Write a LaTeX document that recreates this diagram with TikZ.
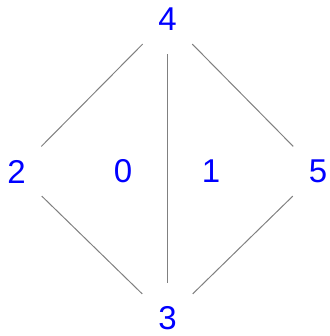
\documentclass[tikz,border=0pt]{standalone}
\usepackage{fontspec}
\setmainfont{Liberation Sans}
\usepackage{xcolor}
\usepackage{tikz}
\usetikzlibrary{calc}

\begin{document}
\begin{tikzpicture}[x=1pt,y=1pt,
  every node/.style={font=\fontsize{33}{38}\selectfont, text=blue},
  vx/.style={circle, inner sep=0pt, minimum size=70pt},
  fc/.style={inner sep=0pt},
  ed/.style={draw=gray, line width=1pt}]
  \useasboundingbox (0,0) rectangle (329,336);
  \node[vx] (v4) at (167.5,317) {4};
  \node[vx] (v2) at (16.5,164.5) {2};
  \node[vx] (v5) at (318,164.5) {5};
  \node[vx] (v3) at (167.5,17.5) {3};
  \node[fc] (f0) at (123,164.5) {0};
  \node[fc] (f1) at (211,164.5) {1};
  \draw[ed] (v4) -- (v2);  \draw[ed] (v4) -- (v5);  \draw[ed] (v4) -- (v3);
  \draw[ed] (v2) -- (v3);  \draw[ed] (v5) -- (v3);
\end{tikzpicture}
\end{document}
